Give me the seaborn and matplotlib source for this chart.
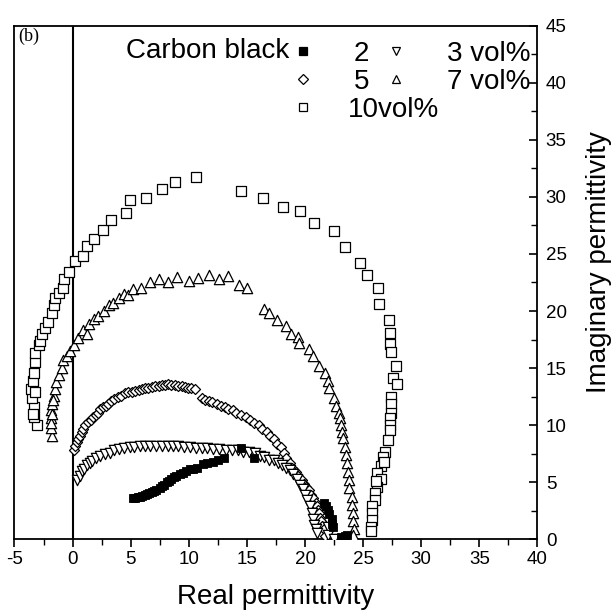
import matplotlib
matplotlib.use('Agg')
import matplotlib.pyplot as plt
import seaborn as sns
from matplotlib.lines import Line2D
from matplotlib.legend import Legend
from matplotlib.ticker import MultipleLocator

# ---------------- data ----------------
cb10_real = [-3.1, -3.3, -3.3, -3.5, -3.6, -3.4, -3.3, -3.2, -3.2, -2.9,
             -2.8, -2.6, -2.4, -2.1, -1.8, -1.6, -1.5, -1.2, -0.8, -0.7,
             -0.3, 0.2, 0.9, 1.2, 1.8, 2.6, 3.3, 4.6, 4.9, 6.3,
             7.7, 8.8, 10.6, 14.5, 16.4, 18.1, 19.6, 20.8, 22.5, 23.4,
             24.7, 25.3, 26.3, 26.4, 27.2, 27.3, 27.3, 27.4, 27.8, 27.6,
             27.9, 27.4, 27.4, 27.4, 27.3, 27.3, 27.3, 27.1, 26.9, 26.7,
             26.5, 26.2, 26.5, 26.2, 26.0, 26.0, 25.8, 25.8, 25.8, 25.7,
             25.7, 26.8, 26.1, -3.4, -3.2]
cb10_imag = [10.0, 10.7, 11.6, 12.4, 13.2, 13.9, 14.6, 15.5, 16.3, 17.0,
             17.4, 18.0, 18.5, 19.0, 19.8, 20.5, 21.1, 21.6, 22.0, 22.8,
             23.4, 24.4, 24.8, 25.7, 26.3, 27.1, 28.0, 28.6, 29.7, 29.9,
             30.7, 31.3, 31.7, 30.5, 29.9, 29.1, 28.8, 27.7, 27.0, 25.6,
             24.2, 23.2, 22.0, 20.6, 19.2, 18.1, 17.1, 16.4, 15.2, 14.1,
             13.6, 12.5, 11.9, 11.1, 10.6, 10.0, 9.6, 8.7, 7.7, 7.2,
             6.4, 5.8, 5.3, 4.6, 4.1, 3.5, 2.9, 2.3, 1.7, 1.1,
             0.7, 6.8, 5.1, 11.0, 12.9]

cb7_real = [-1.8, -1.9, -1.9, -1.9, -1.8, -1.6, -1.5, -1.4, -1.2, -0.9,
            -0.8, -0.5, -0.2, 0.1, 0.5, 0.9, 1.2, 1.4, 1.8, 2.2,
            2.7, 3.1, 3.5, 4.0, 4.4, 4.8, 5.2, 5.9, 6.7, 7.4,
            8.2, 9.0, 10.0, 10.8, 11.7, 12.6, 13.4, 14.3, 15.0, 16.5,
            16.9, 17.6, 18.4, 18.8, 19.4, 19.5, 20.3, 20.7, 21.2, 21.7,
            22.0, 22.1, 22.5, 22.7, 22.9, 23.0, 23.1, 23.2, 23.3, 23.4,
            23.5, 23.6, 23.7, 23.8, 23.8, 24.0, 24.0, 24.1, 24.1, 24.2,
            24.1, -1.9, -1.8, -1.7]
cb7_imag = [9.1, 9.8, 10.6, 11.3, 11.9, 12.6, 13.2, 13.8, 14.4, 15.0,
            15.7, 16.1, 16.5, 17.0, 17.6, 18.3, 18.0, 18.9, 19.3, 19.6,
            20.0, 20.5, 20.7, 21.1, 21.5, 21.4, 21.9, 22.0, 22.5, 22.8,
            22.5, 23.0, 22.6, 22.9, 23.2, 22.8, 23.1, 22.3, 22.0, 20.2,
            19.8, 19.2, 18.7, 18.0, 17.7, 17.2, 16.7, 16.1, 15.2, 14.6,
            13.9, 13.3, 12.4, 11.7, 11.1, 10.6, 10.0, 9.4, 8.9, 8.1,
            7.4, 6.7, 5.9, 5.2, 4.5, 3.7, 3.0, 2.3, 1.6, 0.9,
            0.4, 10.2, 11.0, 12.2]

cb5_real = [0.15, 0.2, 0.34, 0.5, 0.63, 0.8, 0.92, 1.1, 1.35, 1.55,
            1.78, 2.0, 2.2, 2.4, 2.64, 2.85, 3.07, 3.3, 3.6, 3.9,
            4.2, 4.5, 4.8, 5.1, 5.4, 5.7, 5.95, 6.2, 6.5, 6.8,
            7.1, 7.4, 7.7, 7.95, 8.2, 8.5, 8.8, 9.1, 9.4, 9.7,
            9.95, 10.2, 10.5, 11.1, 11.4, 11.7, 12.0, 12.4, 12.8, 13.1,
            13.4, 13.8, 14.1, 14.5, 14.9, 15.3, 15.6, 16.0, 16.3, 16.7,
            17.0, 17.3, 17.6, 17.9, 18.2, 18.4, 18.7, 18.9, 19.2, 19.4,
            19.7, 19.9, 20.1, 20.3, 20.5, 20.7, 20.9, 21.0, 21.1, 21.2,
            21.3, 21.4, 21.5, 21.6, 21.7]
cb5_imag = [7.8, 8.2, 8.5, 8.8, 9.1, 9.4, 9.7, 10.0, 10.3, 10.5,
            10.7, 10.9, 11.1, 11.4, 11.6, 11.7, 11.9, 12.1, 12.3, 12.5,
            12.6, 12.8, 12.9, 12.95, 13.0, 13.1, 13.2, 13.25, 13.3, 13.35,
            13.4, 13.45, 13.5, 13.55, 13.6, 13.5, 13.5, 13.45, 13.4, 13.35,
            13.3, 13.25, 13.2, 12.4, 12.2, 12.1, 12.0, 11.9, 11.7, 11.6,
            11.4, 11.3, 11.1, 10.9, 10.7, 10.5, 10.2, 10.0, 9.7, 9.4,
            9.1, 8.8, 8.4, 8.1, 7.6, 7.1, 6.7, 6.3, 5.9, 5.6,
            5.2, 4.9, 4.6, 4.3, 3.9, 3.6, 3.2, 2.9, 2.6, 2.3,
            1.9, 1.6, 1.2, 0.9, 0.3]

cb3_real = [0.4, 0.6, 0.8, 1.0, 1.2, 1.5, 1.7, 2.0, 2.4, 2.8,
            3.2, 3.6, 4.0, 4.4, 4.9, 5.3, 5.8, 6.2, 6.7, 7.2,
            7.7, 8.2, 8.6, 9.1, 9.6, 10.1, 10.6, 11.1, 11.6, 12.1,
            12.6, 13.2, 13.7, 14.2, 14.7, 15.2, 15.7, 16.1, 16.5, 16.9,
            17.3, 17.7, 18.0, 18.4, 18.7, 19.0, 19.3, 19.6, 19.8, 20.0,
            20.2, 20.4, 20.6, 20.7, 20.8, 20.9, 21.0, 22.0, 22.0, 22.5]
cb3_imag = [5.2, 5.6, 6.0, 6.2, 6.5, 6.7, 6.9, 7.1, 7.3, 7.5,
            7.6, 7.8, 7.9, 8.0, 8.1, 8.1, 8.15, 8.2, 8.2, 8.2,
            8.2, 8.2, 8.2, 8.15, 8.1, 8.1, 8.05, 8.0, 8.0, 7.9,
            7.9, 7.8, 7.8, 7.8, 7.7, 7.7, 7.6, 7.3, 7.2, 7.0,
            7.0, 6.7, 6.5, 6.3, 6.1, 5.7, 5.3, 4.8, 4.4, 3.9,
            3.5, 2.9, 2.3, 1.8, 1.3, 0.9, 0.6, 1.1, 0.4, 0.0]

cb2_real = [5.2, 5.4, 5.6, 5.8, 6.0, 6.2, 6.4, 6.6, 6.8, 7.0,
            7.2, 7.5, 7.7, 7.9, 8.1, 8.3, 8.5, 8.7, 8.9, 9.2,
            9.5, 9.8, 10.1, 10.4, 10.7, 11.2, 11.6, 12.1, 12.5, 13.0,
            14.5, 15.6, 21.6, 21.8, 22.0, 22.1, 22.3, 22.3, 22.4, 23.1,
            23.4, 23.6]
cb2_imag = [3.6, 3.65, 3.7, 3.75, 3.8, 3.9, 4.0, 4.05, 4.15, 4.25,
            4.35, 4.5, 4.65, 4.8, 5.0, 5.15, 5.3, 5.45, 5.6, 5.75,
            5.85, 6.0, 6.15, 6.2, 6.3, 6.6, 6.7, 6.8, 6.95, 7.1,
            8.0, 7.1, 3.2, 2.9, 2.6, 2.2, 1.8, 1.4, 1.1, 0.2,
            0.3, 0.4]

x_ticks = [-5, 0, 5, 10, 15, 20, 25, 30, 35, 40]
y_ticks = [0, 5, 10, 15, 20, 25, 30, 35, 40, 45]
legend_labels = ['2', '5', '3 vol%', '7 vol%', '10vol%']

# ---------------- style ----------------
sns.set_theme(style='white')
plt.rcParams['font.family'] = ['Liberation Sans', 'DejaVu Sans']
plt.rcParams.update({'text.color': 'black', 'axes.labelcolor': 'black',
                     'xtick.color': 'black', 'ytick.color': 'black',
                     'axes.edgecolor': 'black', 'axes.linewidth': 1.3,
                     'axes.unicode_minus': False})

fig = plt.figure(figsize=(6.11, 6.16), dpi=100)
ax = fig.add_axes([0.0237, 0.1242, 0.8560, 0.8344])

open_kw = dict(color='white', edgecolor='black', linewidth=0.9, legend=False, zorder=3)

sns.scatterplot(x=cb10_real, y=cb10_imag, marker='s', s=44, ax=ax, **open_kw)
sns.scatterplot(x=cb7_real, y=cb7_imag, marker='^', s=55, ax=ax, **open_kw)
sns.scatterplot(x=cb5_real, y=cb5_imag, marker='D', s=26, ax=ax, **open_kw)
sns.scatterplot(x=cb3_real, y=cb3_imag, marker='v', s=55, ax=ax, **open_kw)
sns.scatterplot(x=cb2_real, y=cb2_imag, marker='s', s=34, ax=ax,
                color='black', edgecolor='black', linewidth=0.6, legend=False, zorder=4)

ax.axvline(0, color='black', lw=1.5, zorder=2)

ax.set_xlim(-5, 40)
ax.set_ylim(0, 45)
ax.set_xticks(x_ticks)
ax.set_yticks(y_ticks)
ax.xaxis.set_minor_locator(MultipleLocator(2.5))
ax.yaxis.set_minor_locator(MultipleLocator(2.5))
ax.yaxis.tick_right()
ax.yaxis.set_label_position('right')
ax.tick_params(axis='x', which='major', direction='out', length=6, width=1.2,
               bottom=True, top=False, labelsize=13.5, pad=2)
ax.tick_params(axis='x', which='minor', direction='out', length=4, width=1.0,
               bottom=True, top=False)
ax.tick_params(axis='y', which='major', direction='in', length=6, width=1.2,
               right=True, left=False, labelright=True, labelleft=False,
               labelsize=13.5, pad=6)
ax.tick_params(axis='y', which='minor', direction='in', length=4, width=1.0,
               right=True, left=False)
for sp in ax.spines.values():
    sp.set_visible(True)
    sp.set_color('black')

ax.set_xlabel('Real permittivity', fontsize=20, labelpad=12)
ax.set_ylabel('Imaginary permittivity', fontsize=20)
ax.yaxis.set_label_coords(1.092, 0.54)

ax.text(0.008, 0.995, '(b)', transform=ax.transAxes, ha='left', va='top',
        fontsize=13, family=['Liberation Serif', 'DejaVu Serif'])

# ---------------- legend ----------------
def mk(marker, filled=False, ms=6.0):
    return Line2D([], [], linestyle='none', marker=marker, markersize=ms,
                  markerfacecolor='black' if filled else 'white',
                  markeredgecolor='black', markeredgewidth=0.9)

h2, h3, h5, h7, h10 = mk('s', True, 5.5), mk('v'), mk('D', ms=5), mk('^'), mk('s')
FS = 20
leg_kw = dict(frameon=False, fontsize=FS, handlelength=0.6, borderpad=0,
              borderaxespad=0, loc='center left', labelspacing=0)
renderer = fig.canvas.get_renderer()
inv = ax.transAxes.inverted()


def place(handles, labels, target_px, **kw):
    """Put a legend row so its first marker sits at target (x, y from top)."""
    leg = Legend(ax, handles, labels, bbox_to_anchor=(0.5, 0.9),
                 bbox_transform=ax.transAxes, **leg_kw, **kw)
    ax.add_artist(leg)
    fig.canvas.draw()
    hb = leg.legend_handles[0].get_window_extent(renderer)
    cx, cy = (hb.x0 + hb.x1) / 2, (hb.y0 + hb.y1) / 2
    tx, ty = target_px[0], fig.bbox.height - target_px[1]
    a0 = ax.transAxes.transform((0.5, 0.9))
    nx, ny = inv.transform((a0[0] + tx - cx, a0[1] + ty - cy))
    leg.set_bbox_to_anchor((nx, ny), transform=ax.transAxes)
    return leg


place([h2, h3], [legend_labels[0], legend_labels[2]], (303, 51),
      ncol=2, handletextpad=1.54, columnspacing=0.66)
place([h5, h7], [legend_labels[1], legend_labels[3]], (303, 79),
      ncol=2, handletextpad=1.54, columnspacing=0.66)
place([h10], [legend_labels[4]], (303, 107), handletextpad=1.3)

fig.text(289 / 611, 1 - 51 / 616, 'Carbon black', ha='right', va='center',
         fontsize=FS)

fig.savefig('out.png', dpi=100)
